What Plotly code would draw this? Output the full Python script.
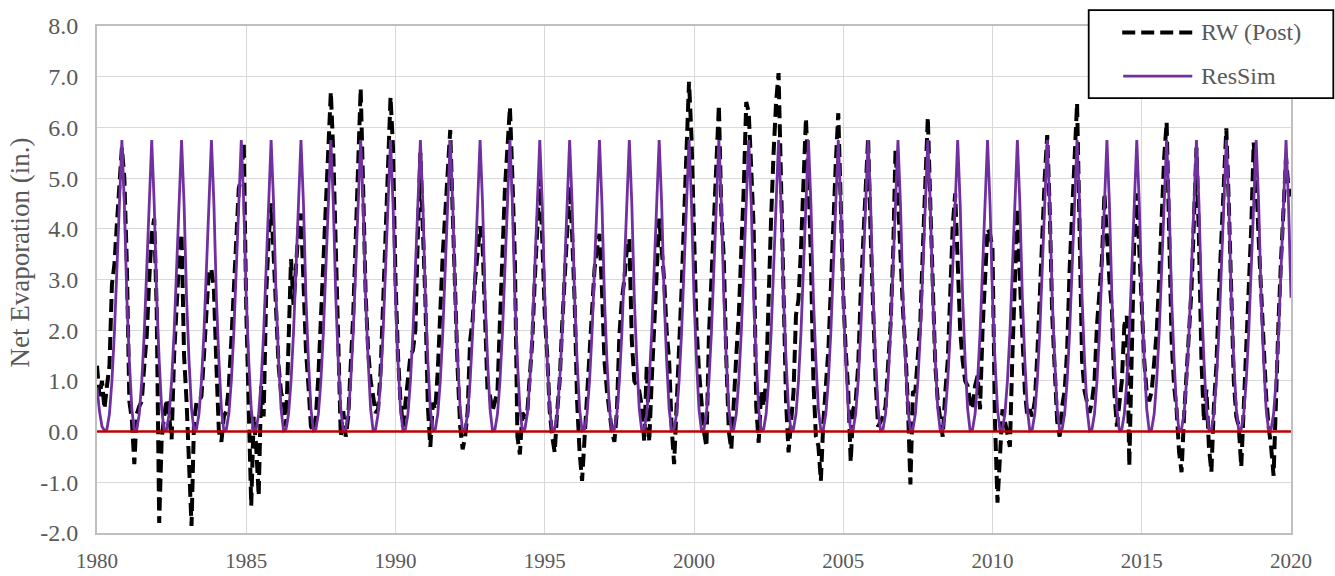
import numpy as np
import plotly.graph_objects as go

# Monthly net evaporation (in.), January 1980 through January 2020, one year per row
RW_POST = [
    1.3, 0.7, 1.0, 0.45, 0.9, 1.3, 2.9, 3.3, 4.1, 5.0, 5.6, 5.0,        # 1980
    3.3, 0.6, 0.24, -0.64, 0.35, 0.5, 0.6, 1.3, 1.9, 3.0, 3.9, 4.2,     # 1981
    2.4, -1.8, -0.15, 0.3, 0.64, 0.3, -0.15, 1.5, 2.6, 3.4, 3.9, 1.5,   # 1982
    0.6, -0.5, -1.86, 0.2, 0.57, 0.6, 0.7, 1.5, 2.3, 3.2, 3.2, 2.8,     # 1983
    1.3, 0.0, -0.2, 0.3, 0.4, 0.9, 1.8, 2.8, 3.9, 4.8, 5.0, 5.7,        # 1984
    2.4, 0.5, -1.46, 0.3, -0.3, -1.27, 0.9, 0.3, 2.7, 3.8, 4.5, 3.5,    # 1985
    2.2, 1.3, 0.77, 0.6, 0.1, 1.5, 3.4, 2.5, 3.2, 4.0, 4.3, 3.0,        # 1986
    1.6, 0.9, 0.1, 0.0, 0.3, 1.1, 2.2, 3.5, 4.4, 5.6, 6.7, 5.5,         # 1987
    3.6, 1.2, -0.1, 0.4, -0.1, 0.3, 1.2, 2.3, 3.8, 5.4, 6.77, 4.8,      # 1988
    2.7, 1.6, 1.0, 0.7, 0.37, 0.44, 1.2, 2.5, 4.0, 5.2, 6.6, 5.6,       # 1989
    3.0, 1.5, 0.6, 0.1, 0.6, 1.1, 1.5, 1.6, 2.0, 3.9, 5.5, 4.0,         # 1990
    2.6, 0.5, -0.3, 0.57, 0.44, 1.2, 2.4, 3.5, 4.3, 5.2, 5.95, 4.3,     # 1991
    2.6, 1.2, 0.1, -0.35, -0.1, 0.4, 1.8, 2.2, 3.0, 3.6, 4.05, 3.7,     # 1992
    2.0, 0.8, 0.7, 0.4, 0.6, 0.8, 2.2, 3.8, 4.8, 5.6, 6.4, 5.0,         # 1993
    3.4, -0.1, -0.45, 0.37, 0.3, 0.4, 1.2, 1.8, 3.0, 4.2, 5.0, 3.8,     # 1994
    2.3, 1.5, 0.4, -0.1, -0.41, 0.4, 1.0, 2.1, 3.0, 4.0, 4.84, 3.9,     # 1995
    2.6, 0.6, -0.4, -0.97, -0.1, 0.6, 1.4, 2.6, 3.2, 3.6, 3.9, 2.8,     # 1996
    1.4, 0.8, 0.3, 0.0, -0.2, 0.4, 1.9, 2.6, 3.0, 3.6, 3.8, 1.8,        # 1997
    1.0, 0.9, 0.8, 0.5, -0.2, 1.3, -0.2, 1.0, 2.1, 3.3, 4.2, 3.6,       # 1998
    3.0, 2.0, 1.4, 0.1, -0.64, 0.5, 1.5, 2.8, 4.2, 5.6, 6.9, 5.8,       # 1999
    3.5, 2.1, 1.2, 0.57, 0.0, -0.3, 1.9, 3.0, 4.3, 5.5, 6.44, 4.3,      # 2000
    3.4, 1.4, 0.0, -0.35, 0.77, 1.5, 2.3, 3.4, 4.8, 6.5, 6.3, 5.2,      # 2001
    4.0, 0.5, -0.22, 0.8, 0.5, 1.0, 3.0, 4.2, 5.5, 6.5, 7.07, 5.0,      # 2002
    2.5, 0.6, -0.41, 0.2, 0.77, 2.3, 2.6, 3.6, 4.8, 6.18, 5.0, 3.4,     # 2003
    1.0, -0.1, -0.28, -0.97, 0.2, 0.8, 1.6, 2.8, 4.2, 5.3, 6.28, 4.4,   # 2004
    2.7, 1.6, 0.8, -0.6, 0.44, 0.6, 1.3, 2.7, 3.8, 4.9, 5.8, 3.9,       # 2005
    2.1, 1.0, 0.1, 0.2, 0.3, 0.5, 1.4, 2.1, 3.4, 5.56, 4.6, 3.4,        # 2006
    2.4, 1.6, 0.5, -1.04, 0.77, 0.8, 1.5, 2.2, 3.6, 4.9, 6.2, 4.5,      # 2007
    2.5, 1.3, 0.6, 0.2, -0.1, 0.77, 1.4, 2.7, 4.05, 4.7, 3.2, 2.0,      # 2008
    1.4, 1.0, 0.9, 0.6, 0.44, 0.9, 1.1, 0.44, 2.0, 3.2, 4.0, 3.9,       # 2009
    3.6, 0.2, -1.4, -0.5, 0.44, 0.2, -0.1, -0.3, 1.5, 3.0, 4.4, 3.0,    # 2010
    2.0, 0.8, 0.3, 0.44, 0.3, 0.6, 1.5, 2.8, 4.0, 5.0, 5.85, 4.4,       # 2011
    2.3, 1.0, 0.2, -0.1, 0.5, 0.8, 1.6, 3.2, 4.4, 5.6, 6.48, 4.0,       # 2012
    1.4, 0.8, 0.6, 0.37, 0.6, 1.0, 2.1, 2.7, 3.4, 4.7, 3.8, 3.0,        # 2013
    2.4, 0.77, 0.1, 0.5, 1.0, 2.1, 2.28, -0.68, 1.5, 3.8, 4.7, 3.5,     # 2014
    2.6, 1.4, 0.77, 0.6, 0.8, 1.4, 1.95, 3.0, 4.2, 5.4, 6.1, 3.6,       # 2015
    1.8, 0.9, 0.44, -0.4, -0.8, 0.3, 1.2, 2.2, 2.8, 4.2, 5.6, 3.8,      # 2016
    1.4, 0.2, 0.83, -0.3, -0.8, 0.5, 1.3, 2.7, 3.8, 5.0, 5.98, 4.5,     # 2017
    2.6, 1.0, 0.3, 0.1, -0.7, 0.4, 1.6, 2.7, 4.0, 5.7, 5.0, 3.8,        # 2018
    2.7, 1.6, 0.7, 0.1, -0.3, -0.87, 0.8, 2.2, 3.4, 4.4, 5.4, 4.8,      # 2019
    4.64,                                                               # Jan 2020
]

# ResSim uses one seasonal net evaporation pattern (Jan..Dec), repeated every year
RESSIM_MONTHLY = [2.64, 1.4, 0.45, 0.02, 0.05, 0.35, 1.0, 1.95, 3.2, 4.5, 5.75, 4.5]
# the simulation starts from its own initial values for Jan-Mar 1980
RESSIM_START_1980 = [0.87, 0.4, 0.1]

X_TICKS = [1980, 1985, 1990, 1995, 2000, 2005, 2010, 2015, 2020]
Y_TICKS = [-2, -1, 0, 1, 2, 3, 4, 5, 6, 7, 8]

START_YEAR = 1980
N_YEARS = 40

month_index = np.arange(len(RW_POST))
x_dates = START_YEAR + month_index / 12.0

ressim = (RESSIM_START_1980 + RESSIM_MONTHLY[3:]
          + RESSIM_MONTHLY * (N_YEARS - 1) + RESSIM_MONTHLY[:1])

FONT = "Liberation Serif"
TEXT_GRAY = "#595959"
GRID = "#d9d9d9"
BLACK_DASH = "13px,6px"
PURPLE = "#7030a0"

fig = go.Figure()
fig.add_trace(go.Scatter(
    x=x_dates, y=RW_POST, mode="lines", name="RW (Post)",
    line=dict(color="black", width=4, dash=BLACK_DASH),
))
fig.add_trace(go.Scatter(
    x=x_dates, y=ressim, mode="lines", name="ResSim",
    line=dict(color=PURPLE, width=2.8),
))

# plot area in pixels: left 97.3, right 1290.7, top 25.9, bottom 533.3
L, R, T, B = 97.3, 1290.7, 25.9, 533.3


def px_x(px):
    return (px - L) / (R - L)


def px_y(py):
    return (B - py) / (B - T)


shapes = [
    # zero reference line
    dict(type="line", xref="paper", yref="y", x0=0, x1=1, y0=0, y1=0,
         line=dict(color="#c00000", width=2.5), layer="above"),
    # legend frame
    dict(type="rect", xref="paper", yref="paper",
         x0=px_x(1088.5), x1=px_x(1333), y0=px_y(98), y1=px_y(10),
         line=dict(color="black", width=1.8), fillcolor="white", layer="above"),
    dict(type="line", xref="paper", yref="paper",
         x0=px_x(1122), x1=px_x(1192), y0=px_y(32.3), y1=px_y(32.3),
         line=dict(color="black", width=4, dash=BLACK_DASH), layer="above"),
    dict(type="line", xref="paper", yref="paper",
         x0=px_x(1123), x1=px_x(1192), y0=px_y(76), y1=px_y(76),
         line=dict(color=PURPLE, width=2.8), layer="above"),
]

annotations = [
    dict(text="RW (Post)", xref="paper", yref="paper", x=px_x(1199), y=px_y(32),
         xanchor="left", yanchor="middle", showarrow=False,
         font=dict(family=FONT, size=24, color=TEXT_GRAY)),
    dict(text="ResSim", xref="paper", yref="paper", x=px_x(1199), y=px_y(76),
         xanchor="left", yanchor="middle", showarrow=False,
         font=dict(family=FONT, size=24, color=TEXT_GRAY)),
    dict(text="Net Evaporation (in.)", xref="paper", yref="paper",
         x=px_x(20), y=px_y(253), xanchor="center", yanchor="middle",
         textangle=-90, showarrow=False,
         font=dict(family=FONT, size=27, color=TEXT_GRAY)),
]

fig.update_layout(
    width=1335, height=576,
    margin=dict(l=97, r=44, t=26, b=43, autoexpand=False),
    paper_bgcolor="white", plot_bgcolor="white",
    showlegend=False,
    shapes=shapes, annotations=annotations,
    font=dict(family=FONT, color=TEXT_GRAY),
)
fig.update_xaxes(
    range=[START_YEAR, START_YEAR + N_YEARS], tickvals=X_TICKS,
    ticktext=[str(v) for v in X_TICKS],
    showgrid=True, gridcolor=GRID, gridwidth=1.3,
    showline=True, linecolor="#bfbfbf", linewidth=2, mirror=True,
    zeroline=False, ticks="", ticklabelstandoff=8, automargin=False,
    tickfont=dict(family=FONT, size=21, color=TEXT_GRAY),
)
fig.update_yaxes(
    range=[-2, 8], tickvals=Y_TICKS,
    ticktext=[f"{v:.1f}" for v in Y_TICKS],
    showgrid=True, gridcolor=GRID, gridwidth=1.3,
    showline=True, linecolor="#bfbfbf", linewidth=2, mirror=True,
    zeroline=False, ticks="", ticklabelstandoff=12, automargin=False,
    tickfont=dict(family=FONT, size=24, color=TEXT_GRAY),
)

fig.write_html("out.html")
